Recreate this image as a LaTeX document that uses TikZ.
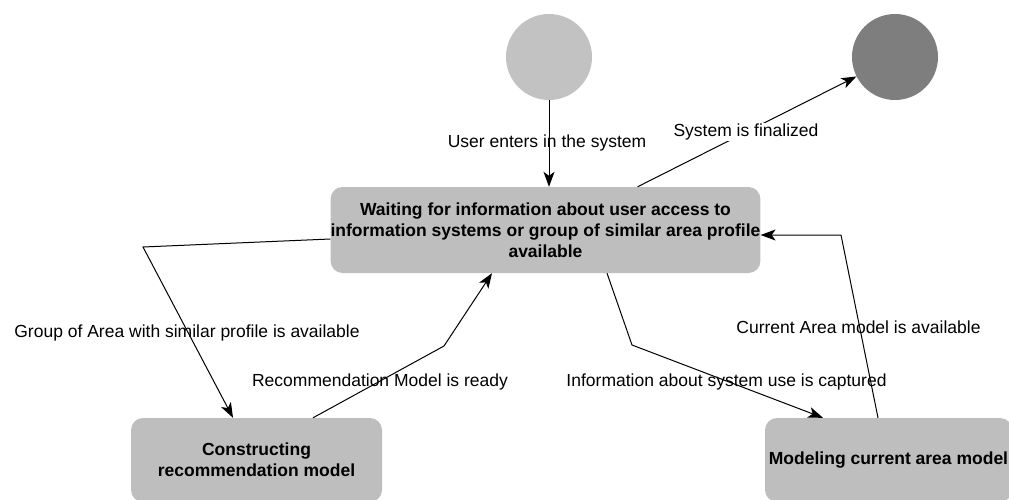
\documentclass[tikz,border=0pt]{standalone}
\usepackage{fontspec}
\setmainfont{Liberation Sans}
\usetikzlibrary{arrows.meta,calc}
\definecolor{boxgray}{RGB}{190,190,190}
\definecolor{startgray}{RGB}{194,194,194}
\definecolor{endgray}{RGB}{126,126,126}
\begin{document}
\begin{tikzpicture}[x=1pt,y=-1pt,
  statebox/.style={fill=boxgray, rounded corners=12pt, align=center,
    font=\bfseries\fontsize{17.5}{21}\selectfont, inner sep=0pt},
  startdot/.style={circle, fill=startgray, minimum size=86pt, inner sep=0pt},
  enddot/.style={circle, fill=endgray, minimum size=86pt, inner sep=0pt},
  conn/.style={draw, line width=1pt, -{Stealth[length=15pt,width=11pt,inset=4pt]}},
  lbl/.style={font=\fontsize{17.5}{21}\selectfont, inner sep=1pt}]
\useasboundingbox (0,0) rectangle (1009,500);

\node[startdot] (start) at (549,57) {};
\node[enddot] (end) at (895,57) {};

\node[statebox, minimum width=425pt, minimum height=86pt] (main) at (545.5,230)
  {Waiting for information about user access to\\
   information systems or group of similar area profile\\
   available};
\node[statebox, minimum width=251pt, minimum height=84pt] (cbox) at (256.5,460)
  {Constructing\\recommendation model};
\node[statebox, minimum width=247pt, minimum height=84pt] (mbox) at (888.5,460)
  {Modeling current area model};

\coordinate (bendL) at (143,247);
\coordinate (bendR) at (444,346);
\coordinate (bendI) at (632,345);
\coordinate (bendC) at (841,235);

% start -> main
\draw[conn] (start.south) -- (start.south |- main.north);
\node[lbl] (lstart) at (547,143) {User enters in the system};

% main -> end
\draw[conn] ($(main.north west)!0.714!(main.north east)$) -- (end);
\node[lbl, fill=white] (lend) at (746,132) {System is finalized};

% main -> cbox
\draw[conn] ([yshift=-9pt]main.west) -- (bendL) -- ([xshift=-23.5pt]cbox.north);
\node[lbl] (lgroup) at (187,333) {Group of Area with similar profile is available};

% cbox -> main
\draw[conn] ([xshift=56.5pt]cbox.north) -- (bendR) -- ([xshift=-53.5pt]main.south);
\node[lbl] (lrec) at (380,382) {Recommendation Model is ready};

% main -> mbox
\draw[conn] ([xshift=61.5pt]main.south) -- (bendI) -- ([xshift=-65.5pt]mbox.north);
\node[lbl] (linfo) at (726.5,382) {Information about system use is captured};

% mbox -> main
\draw[conn] ([xshift=-10.5pt]mbox.north) -- (bendC) -- (bendC -| main.east);
\node[lbl] (lcur) at (858.5,327) {Current Area model is available};
\end{tikzpicture}
\end{document}
